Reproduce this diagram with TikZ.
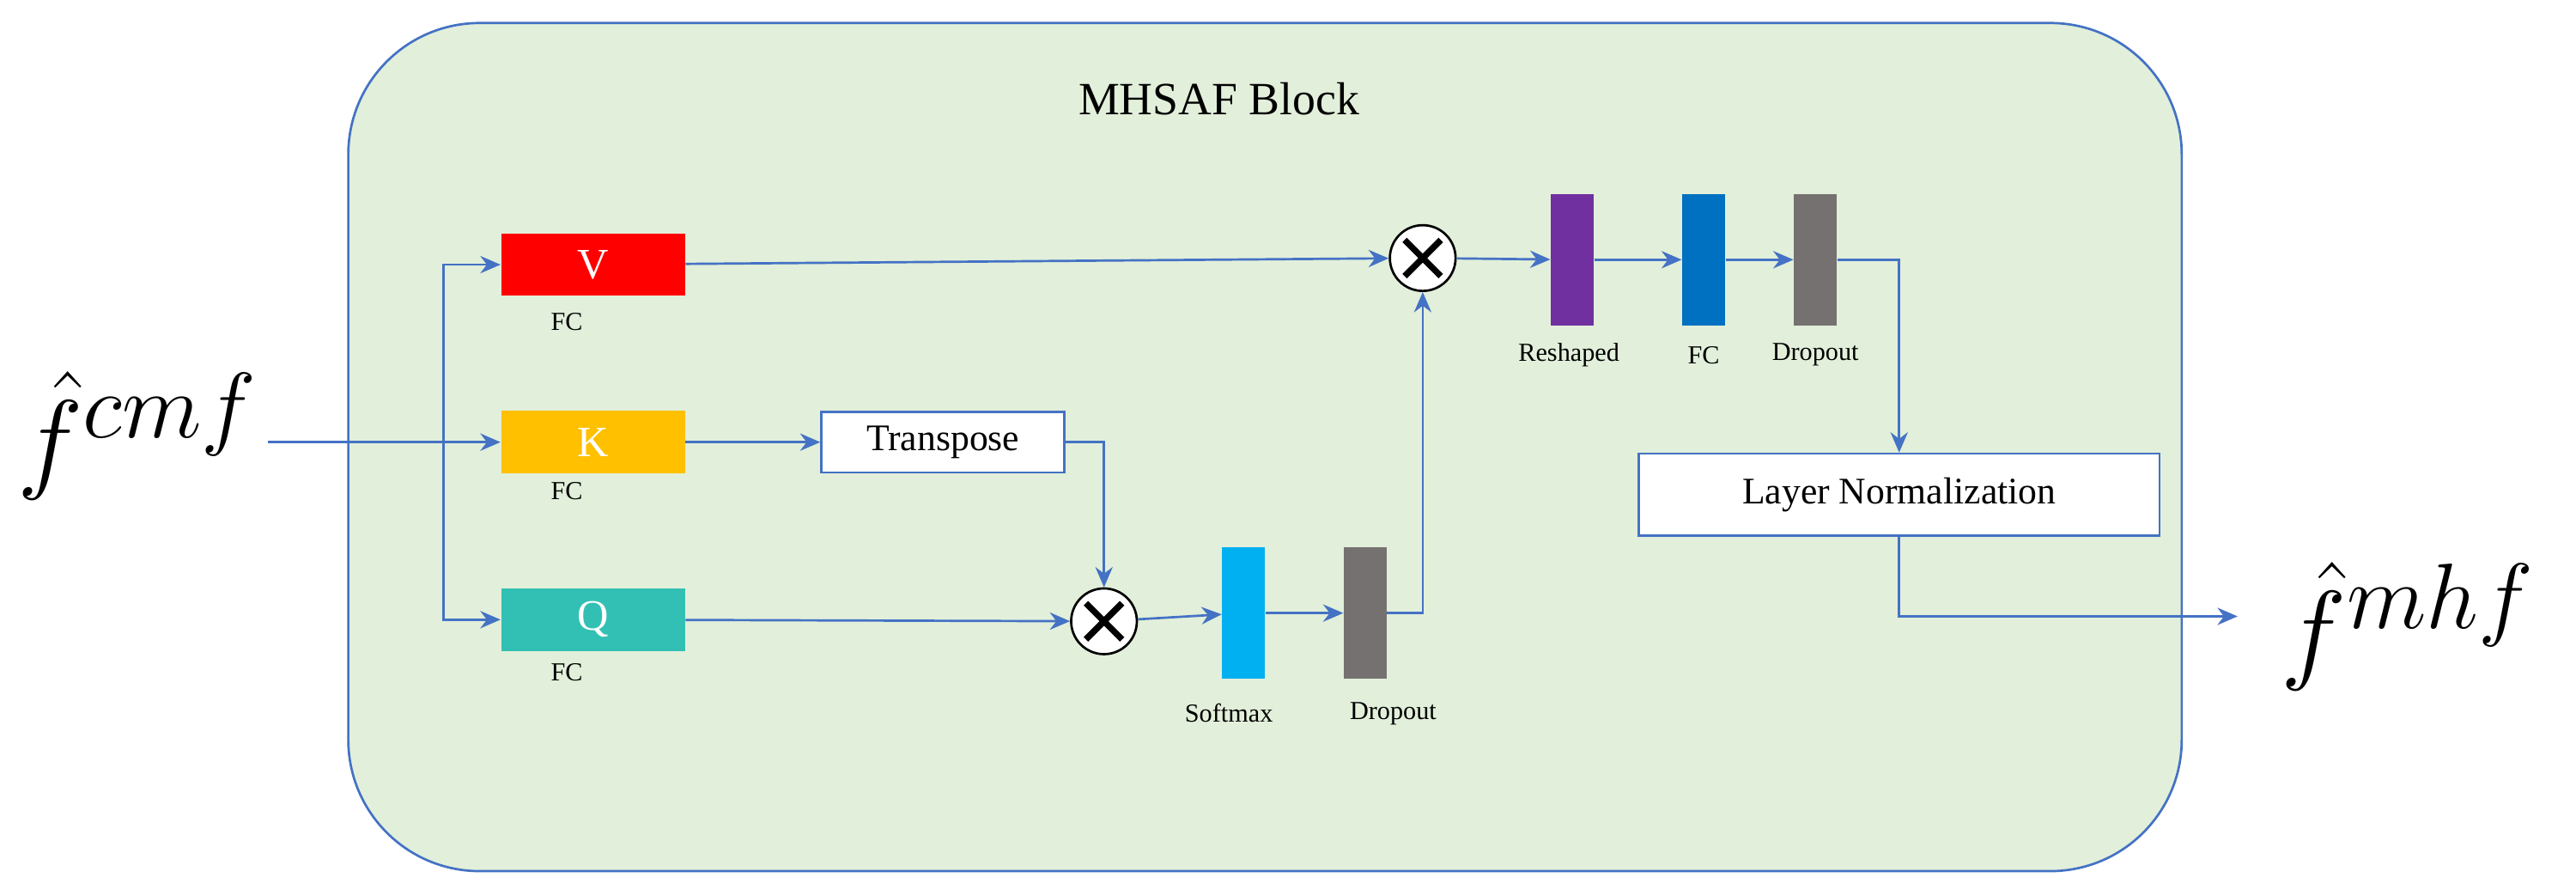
\documentclass[tikz,border=0pt]{standalone}
\usepackage{amsmath,amsfonts,amssymb}
\usepackage{fontspec}
\setmainfont{Liberation Serif}
\usepackage{tikz}
\usetikzlibrary{arrows.meta}
\definecolor{lineblue}{HTML}{4472C4}
\definecolor{blockgreen}{HTML}{E2EFDA}
\definecolor{vred}{HTML}{FF0000}
\definecolor{korange}{HTML}{FFC000}
\definecolor{qteal}{HTML}{33C0B4}
\definecolor{smblue}{HTML}{00B0F0}
\definecolor{dropgray}{HTML}{767171}
\definecolor{rspurple}{HTML}{7030A0}
\definecolor{fcblue}{HTML}{0070C0}
\begin{document}
\begin{tikzpicture}[x=0.02cm, y=-0.02cm,
		fc_style/.style={draw=none,minimum width=2.24cm,minimum height=0.76cm,inner sep=0pt,text=white,font=\fontsize{15}{15}\selectfont},
		bar_style/.style={draw=none,minimum width=0.52cm,minimum height=1.6cm,inner sep=0pt},
		box_style/.style={draw=lineblue,thick,fill=white,inner sep=0pt,font=\fontsize{13}{13}\selectfont},
		small_style/.style={font=\fontsize{9}{9}\selectfont},
		feat_style/.style={inner sep=0pt,font=\fontsize{24.88}{25}\selectfont},
		mul_style/.style={circle,draw=black,thick,fill=white,minimum size=0.8cm,inner sep=0pt,
			path picture={\draw[line width=2.2pt] (path picture bounding box.north west)++(0.18cm,-0.18cm) -- ++(0.44cm,-0.44cm)
				(path picture bounding box.north east)++(-0.18cm,-0.18cm) -- ++(-0.44cm,-0.44cm);}},
		edge_style/.style={draw=lineblue,thick,-{Stealth[length=7pt,width=6pt]}}]

		\useasboundingbox (0,0) rectangle (1568,545);
		\draw[lineblue,thick,fill=blockgreen,rounded corners=1.6cm] (212,14) rectangle (1328,530);
		\node[font=\fontsize{16}{16}\selectfont] (title) at (742,60) {MHSAF Block};

		\node[feat_style] (fin) at (84,265) {\scalebox{1.55}{$\hat{f}^{cmf}$}};
		\node[feat_style] (fout) at (1466,381) {\scalebox{1.55}{$\hat{f}^{mhf}$}};

		\node[fc_style,fill=vred] (v) at (361,161) {V};
		\node[fc_style,fill=korange] (k) at (361,269) {K};
		\node[fc_style,fill=qteal] (q) at (361,377) {Q};
		\node[small_style] (vfc) at (345,196) {FC};
		\node[small_style] (kfc) at (345,299) {FC};
		\node[small_style] (qfc) at (345,409) {FC};

		\node[box_style,minimum width=2.96cm,minimum height=0.74cm] (tr) at (574,269) {Transpose};
		\node[mul_style] (m2) at (672,378) {};
		\node[mul_style] (m1) at (866,157) {};

		\node[bar_style,fill=smblue] (sm) at (757,373) {};
		\node[bar_style,fill=dropgray] (d1) at (831,373) {};
		\node[small_style] (sml) at (748,434) {Softmax};
		\node[small_style] (d1l) at (848,434) {Dropout};

		\node[bar_style,fill=rspurple] (rs) at (957,158) {};
		\node[bar_style,fill=fcblue] (fc) at (1037,158) {};
		\node[bar_style,fill=dropgray] (d2) at (1105,158) {};
		\node[small_style] (rsl) at (955,216) {Reshaped};
		\node[small_style] (fcl) at (1037,216) {FC};
		\node[small_style] (d2l) at (1105,216) {Dropout};

		\node[box_style,minimum width=6.34cm,minimum height=1cm] (ln) at (1156,301) {Layer Normalization};

		\coordinate (fe) at (163,269);
		\coordinate (split) at (270,269);
		\draw[edge_style] (fe) -- (k.west);
		\draw[edge_style] (split) |- (v.west);
		\draw[edge_style] (split) |- (q.west);
		\draw[edge_style] (k) -- (tr);
		\draw[edge_style] (tr.east) -| (m2.north);
		\draw[edge_style] (q) -- (m2);
		\draw[edge_style] (m2) -- (sm);
		\draw[edge_style] (sm) -- (d1);
		\draw[edge_style] (d1.east) -| (m1.south);
		\draw[edge_style] (v) -- (m1);
		\draw[edge_style] (m1) -- (rs);
		\draw[edge_style] (rs) -- (fc);
		\draw[edge_style] (fc) -- (d2);
		\draw[edge_style] (d2.east) -| (ln.north);
		\coordinate (lnout) at (1362,375);
		\draw[edge_style] (ln.south) |- (lnout);
		\end{tikzpicture}
\end{document}
